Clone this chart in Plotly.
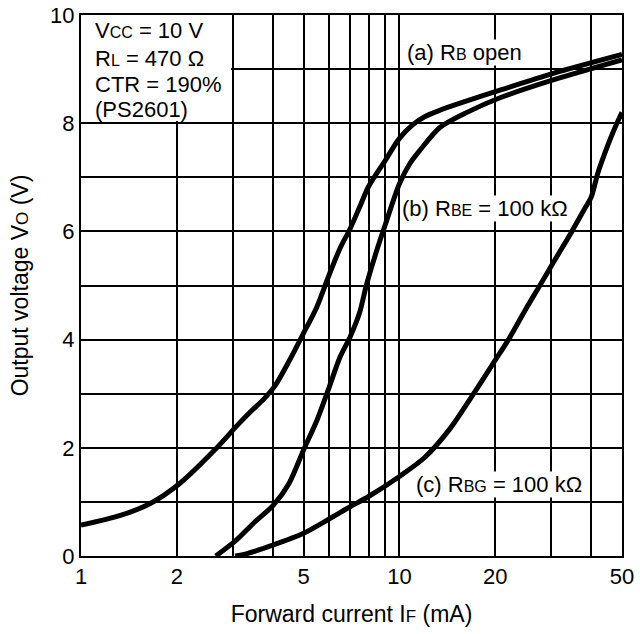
import math
import plotly.graph_objects as go

# Curve (a) RB open
if_a = [1.0, 1.33, 1.65, 2.05, 2.67, 3.08, 3.4, 3.75, 4.07, 4.5, 5.0, 5.5, 6.0, 6.5,
        7.0, 7.5, 8.0, 9.0, 10.0, 11.0, 12.0, 13.4, 15.5, 20.7, 30.4, 50]
vo_a = [0.57, 0.75, 0.97, 1.35, 2.0, 2.4, 2.66, 2.9, 3.15, 3.6, 4.12, 4.6, 5.18, 5.68,
        6.05, 6.45, 6.83, 7.3, 7.72, 7.97, 8.12, 8.24, 8.37, 8.61, 8.92, 9.27]

# Curve (b) RBE = 100 kOhm
if_b = [2.65, 3.08, 3.5, 4.02, 4.5, 5.0, 5.5, 6.0, 6.5, 7.0, 7.5, 7.87, 8.5, 9.0,
        10.0, 10.8, 11.6, 13.4, 16.3, 20.7, 30.4, 50]
vo_b = [0.0, 0.3, 0.62, 0.94, 1.34, 1.96, 2.5, 3.1, 3.67, 4.05, 4.5, 5.0, 5.66, 6.1,
        6.88, 7.26, 7.5, 7.92, 8.2, 8.47, 8.8, 9.17]

# Curve (c) RBG = 100 kOhm
if_c = [3.05, 3.3, 4.0, 5.0, 6.0, 7.0, 8.0, 10.0, 12.0, 14.4, 17.1, 20.0, 22.0,
        24.8, 27.6, 30.4, 34.8, 38.0, 40.0, 42.0, 44.2, 47.0, 50]
vo_c = [0.0, 0.04, 0.2, 0.42, 0.68, 0.91, 1.1, 1.47, 1.82, 2.35, 3.0, 3.62, 4.0,
        4.54, 5.0, 5.42, 6.0, 6.4, 6.63, 7.08, 7.45, 7.85, 8.2]

x_ticks = [1, 2, 5, 10, 20, 50]
x_minor = [3, 4, 6, 7, 8, 9, 30, 40]
y_ticks = [0, 2, 4, 6, 8, 10]
y_minor = [1, 3, 5, 7, 9]

FONT = "Arial, Liberation Sans, sans-serif"


def sub(t, size=16):
    return f"<span style='font-size:{size}px'>{t}</span>"


fig = go.Figure()
for xs, ys in [(if_a, vo_a), (if_b, vo_b), (if_c, vo_c)]:
    fig.add_trace(go.Scatter(x=xs, y=ys, mode="lines",
                             line=dict(color="black", width=5, shape="spline", smoothing=0.8),
                             showlegend=False, hoverinfo="skip"))

# white box behind the conditions text
fig.add_shape(type="rect", x0=1.0, x1=2.96, y0=8.04, y1=10, xref="x", yref="y",
              fillcolor="white", line=dict(width=0), layer="between")

box_lines = [
    ("V" + sub("CC") + " = 10 V", 9.72),
    ("R" + sub("L") + " = 470 Ω", 9.2),
    ("CTR = 190%", 8.72),
    ("(PS2601)", 8.25),
]
for txt, yy in box_lines:
    fig.add_annotation(x=0.038, y=yy, xref="x", yref="y", text=txt, showarrow=False,
                       xanchor="left", yanchor="middle", font=dict(size=22))

labels = [
    ("(a) R" + sub("B") + " open", 10.45, 9.31),
    ("(b) R" + sub("BE") + " = 100 kΩ", 10.1, 6.43),
    ("(c) R" + sub("BG") + " = 100 kΩ", 11.2, 1.33),
]
for txt, xx, yy in labels:
    fig.add_annotation(x=math.log10(xx), y=yy, xref="x", yref="y", text=txt,
                       showarrow=False, xanchor="left", yanchor="middle",
                       bgcolor="white", borderpad=0, font=dict(size=22))

fig.update_xaxes(type="log", range=[0, 1.69897], tickvals=x_ticks,
                 ticktext=[str(v) for v in x_ticks],
                 showgrid=True, gridcolor="black", gridwidth=1.8,
                 minor=dict(tickvals=x_minor, showgrid=True, gridcolor="black", gridwidth=1.8),
                 showline=True, linecolor="black", linewidth=2, mirror=True,
                 ticks="", ticklabelstandoff=0, tickfont=dict(size=22),
                 ticklabeloverflow="allow",
                 title=dict(text="Forward current I" + sub("F", 17) + " (mA)",
                            font=dict(size=23), standoff=17),
                 automargin=False, zeroline=False)
fig.update_yaxes(range=[0, 10], tickvals=y_ticks,
                 showgrid=True, gridcolor="black", gridwidth=1.8,
                 minor=dict(tickvals=y_minor, showgrid=True, gridcolor="black", gridwidth=1.8),
                 showline=True, linecolor="black", linewidth=2, mirror=True,
                 ticks="", ticklabelstandoff=0, tickfont=dict(size=22),
                 ticklabeloverflow="allow",
                 title=dict(text="Output voltage V" + sub("O", 17) + " (V)",
                            font=dict(size=23), standoff=15),
                 automargin=False, zeroline=False)

fig.update_layout(width=640, height=634, plot_bgcolor="white", paper_bgcolor="white",
                  font=dict(family=FONT, color="black"),
                  margin=dict(l=81, r=18, t=15, b=78))

# drop the default 8px page margin so the figure fills the window exactly
fig.write_html("out.html", config={"displayModeBar": False},
               post_script="document.body.style.margin='0px';")
